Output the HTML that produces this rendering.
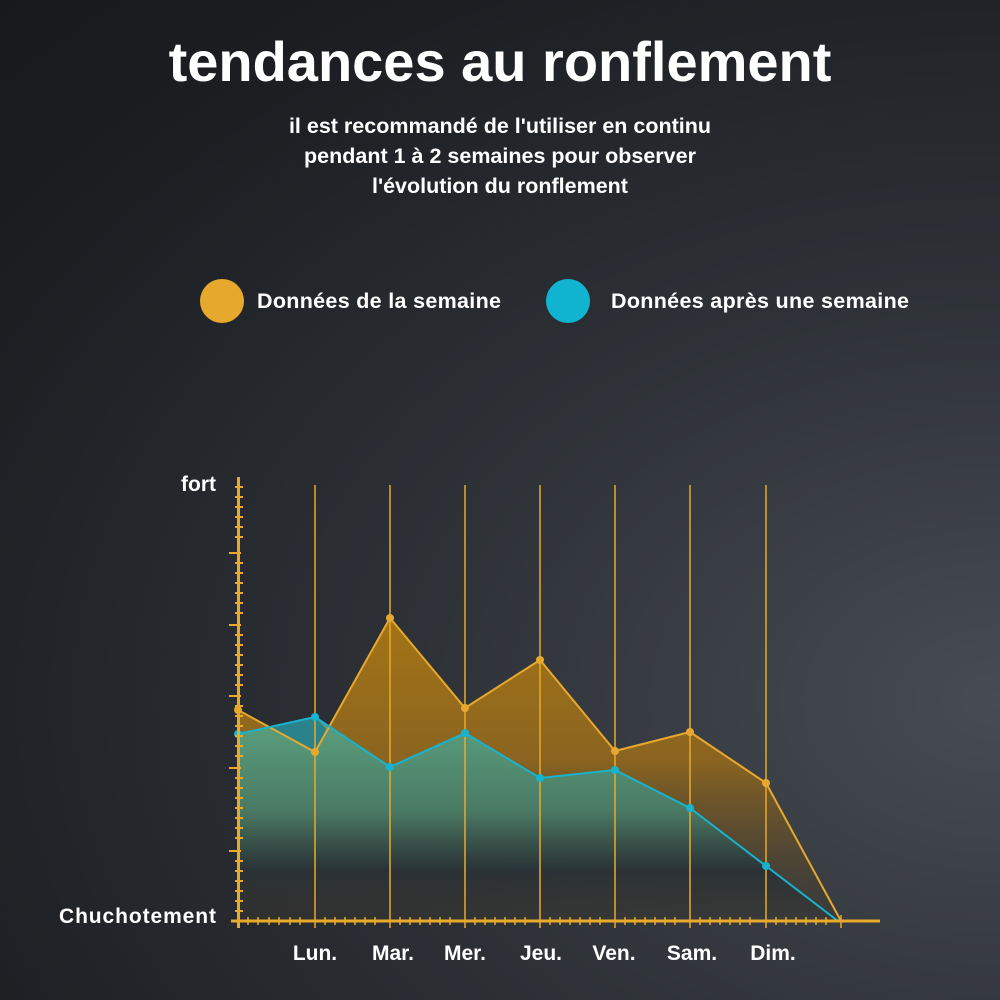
<!DOCTYPE html>
<html><head><meta charset="utf-8"><style>
html,body{margin:0;padding:0}
body{width:1000px;height:1000px;overflow:hidden;background:radial-gradient(ellipse at 100% 70%,#474c53 0%,#2c3035 45%,#1c1e22 80%,#18191c 100%);font-family:"Liberation Sans",sans-serif;color:#fff;position:relative}
.t{position:absolute;left:0;width:1000px;text-align:center;font-weight:bold}
</style></head><body>
<div class="t" style="top:29px;font-size:56px;letter-spacing:0px">tendances au ronflement</div>
<div class="t" style="top:111px;font-size:21.5px;line-height:30px">il est recommandé de l'utiliser en continu<br>pendant 1 à 2 semaines pour observer<br>l'évolution du ronflement</div>
<svg width="1000" height="1000" style="position:absolute;left:0;top:0">
<defs>
<linearGradient id="go" x1="0" y1="600" x2="0" y2="921" gradientUnits="userSpaceOnUse"><stop offset="0" stop-color="#a77614"/><stop offset="0.5" stop-color="#8a6420"/><stop offset="1" stop-color="#3a3832" stop-opacity="0.4"/></linearGradient>
<linearGradient id="gc" x1="0" y1="720" x2="0" y2="921" gradientUnits="userSpaceOnUse"><stop offset="0" stop-color="#5aa07e"/><stop offset="0.45" stop-color="#4a7a64"/><stop offset="0.75" stop-color="#273036" stop-opacity="0.9"/><stop offset="1" stop-color="#252a30" stop-opacity="0"/></linearGradient>
</defs>
<circle cx="222" cy="301" r="22" fill="#e6a92e"/>
<text x="257" y="308" font-size="21.5" font-weight="bold" fill="#fff" textLength="244">Données de la semaine</text>
<circle cx="568" cy="301" r="22" fill="#11b4d0"/>
<text x="611" y="308" font-size="21.5" font-weight="bold" fill="#fff" textLength="298">Données après une semaine</text>
<text x="216" y="491" font-size="21" font-weight="bold" fill="#fff" text-anchor="end">fort</text>
<text x="216" y="923" font-size="21" font-weight="bold" fill="#fff" text-anchor="end" textLength="157">Chuchotement</text>
<g font-size="21" font-weight="bold" fill="#fff" text-anchor="middle">
<text x="315" y="960">Lun.</text><text x="393" y="960">Mar.</text><text x="465" y="960">Mer.</text><text x="541" y="960">Jeu.</text><text x="614" y="960">Ven.</text><text x="692" y="960">Sam.</text><text x="773" y="960">Dim.</text></g>
<polygon points="238,710 315,752 390,618 465,708 540,660 615,751 690,732 766,783 841,921 238,921" fill="url(#go)"/>
<polygon points="238,734 315,717 390,767 465,733 540,778 615,770 690,808 766,866 838,921 238,921" fill="url(#gc)"/>
<polygon points="238,734 315,717 327,730 315,752 268,727" fill="#1f7c8e" opacity="0.8"/>
<g stroke="#e9a92a" stroke-width="1.5">
<line x1="315" y1="485" x2="315" y2="928"/><line x1="390" y1="485" x2="390" y2="928"/><line x1="465" y1="485" x2="465" y2="928"/><line x1="540" y1="485" x2="540" y2="928"/><line x1="615" y1="485" x2="615" y2="928"/><line x1="690" y1="485" x2="690" y2="928"/><line x1="766" y1="485" x2="766" y2="928"/><line x1="841" y1="915" x2="841" y2="928"/>
</g>
<polyline points="238,710 315,752 390,618 465,708 540,660 615,751 690,732 766,783 841,921" fill="none" stroke="#e6a92e" stroke-width="2"/>
<polyline points="238,734 315,717 390,767 465,733 540,778 615,770 690,808 766,866 838,921" fill="none" stroke="#17b3cf" stroke-width="2"/>
<g fill="#e6a92e"><circle cx="238" cy="710" r="4"/><circle cx="315" cy="752" r="4"/><circle cx="390" cy="618" r="4"/><circle cx="465" cy="708" r="4"/><circle cx="540" cy="660" r="4"/><circle cx="615" cy="751" r="4"/><circle cx="690" cy="732" r="4"/><circle cx="766" cy="783" r="4"/></g>
<g fill="#17b3cf"><circle cx="238" cy="734" r="4"/><circle cx="315" cy="717" r="4"/><circle cx="390" cy="767" r="4"/><circle cx="465" cy="733" r="4"/><circle cx="540" cy="778" r="4"/><circle cx="615" cy="770" r="4"/><circle cx="690" cy="808" r="4"/><circle cx="766" cy="866" r="4"/></g>
<g stroke="#e9a92a" stroke-width="3">
<line x1="238.5" y1="477" x2="238.5" y2="928"/><line x1="231" y1="921" x2="880" y2="921"/></g>
<g stroke="#e9a92a" stroke-width="2">
<line x1="229" y1="553" x2="241" y2="553"/><line x1="229" y1="625" x2="241" y2="625"/><line x1="229" y1="696" x2="241" y2="696"/><line x1="229" y1="768" x2="241" y2="768"/><line x1="229" y1="851" x2="241" y2="851"/></g>
<path d="M235 487h8M235 497h8M235 507h8M235 517h8M235 527h8M235 537h8M235 563h8M235 573h8M235 583h8M235 593h8M235 603h8M235 613h8M235 635h8M235 645h8M235 655h8M235 665h8M235 675h8M235 685h8M235 706h8M235 716h8M235 726h8M235 736h8M235 746h8M235 756h8M235 778h8M235 788h8M235 798h8M235 808h8M235 818h8M235 828h8M235 838h8M235 861h8M235 871h8M235 881h8M235 891h8M235 901h8M235 911h8" stroke="#e9a92a" stroke-width="2"/>
<path d="M248 917v8M258 917v8M269 917v8M279 917v8M290 917v8M300 917v8M325 917v8M335 917v8M345 917v8M355 917v8M365 917v8M375 917v8M400 917v8M410 917v8M420 917v8M430 917v8M440 917v8M450 917v8M475 917v8M485 917v8M495 917v8M505 917v8M515 917v8M525 917v8M550 917v8M560 917v8M570 917v8M580 917v8M590 917v8M600 917v8M625 917v8M635 917v8M645 917v8M655 917v8M665 917v8M675 917v8M700 917v8M710 917v8M720 917v8M730 917v8M740 917v8M750 917v8M776 917v8M786 917v8M796 917v8M806 917v8M816 917v8M826 917v8" stroke="#e9a92a" stroke-width="1.5"/>
</svg>
</body></html>
